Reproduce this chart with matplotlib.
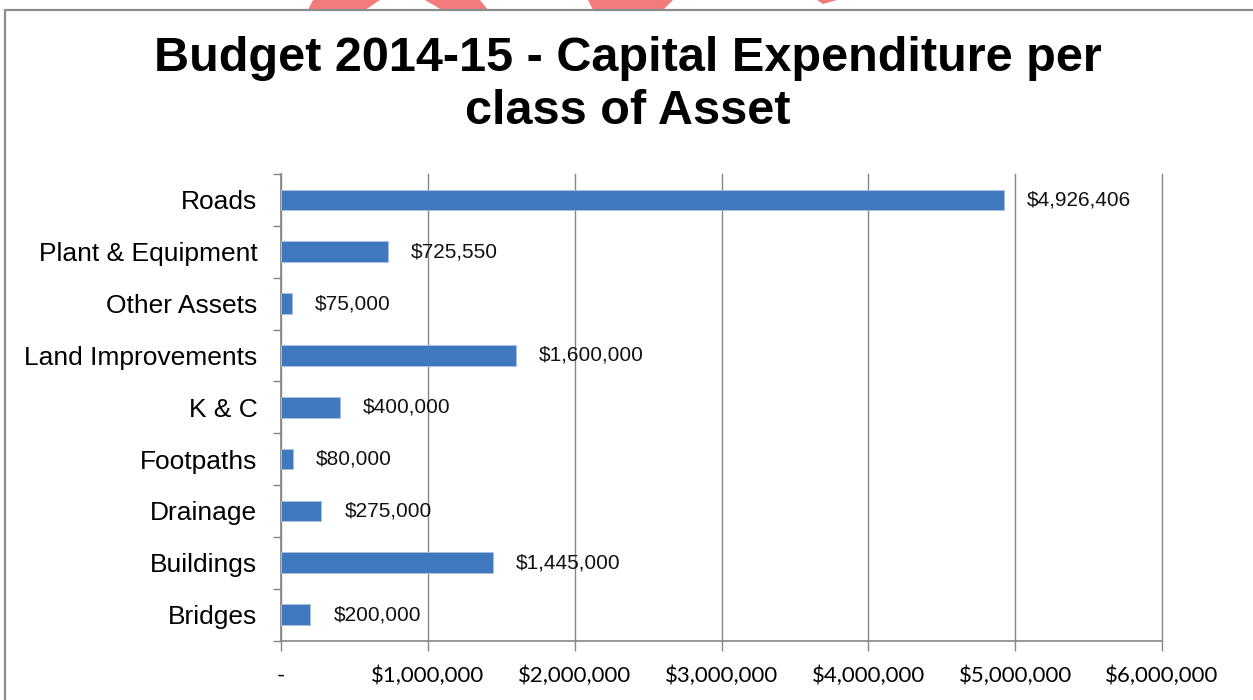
import matplotlib.pyplot as plt
from matplotlib.patches import Rectangle, Polygon
from matplotlib.ticker import FuncFormatter, MultipleLocator

# Capital expenditure per class of asset (listed bottom to top)
categories = ["Bridges", "Buildings", "Drainage", "Footpaths", "K & C",
              "Land Improvements", "Other Assets", "Plant & Equipment", "Roads"]
amounts = [200000, 1445000, 275000, 80000, 400000,
           1600000, 75000, 725550, 4926406]

x_ticks = [0, 1000000, 2000000, 3000000, 4000000, 5000000, 6000000]

W, H = 1253, 700
fig = plt.figure(figsize=(W / 100, H / 100), dpi=100)

# chart frame (runs off the right and bottom of the picture)
fig.patches.append(Rectangle((5 / W, -0.02), 1.2, 1 - 10 / H + 0.02,
                             transform=fig.transFigure, fill=False,
                             edgecolor="#8c8c8c", linewidth=1.6, zorder=3))

# bits of a red stamp poking in above the frame
red_bits = [
    [(313, 0), (380, 0), (365, 10), (308, 10)],
    [(425, 0), (480, 0), (488, 10), (442, 10)],
    [(588, 0), (673, 0), (663, 10), (593, 10)],
    [(817, 0), (837, 0), (823, 4)],
]
for pts in red_bits:
    fig.patches.append(Polygon([(px / W, 1 - py / H) for px, py in pts],
                               closed=True, transform=fig.transFigure,
                               facecolor="#f47b7b", edgecolor="none", zorder=2))

ax = fig.add_axes([281 / W, 1 - 640.5 / H, 881 / W, (640.5 - 174) / H])

pos = list(range(len(categories)))
ax.barh(pos, amounts, height=0.4, color="#4179be", edgecolor="#a9c2e0",
        linewidth=0.6, zorder=3)

for y, v in zip(pos, amounts):
    ax.annotate(f"${v:,.0f}", xy=(v, y), xytext=(16.5, 0),
                textcoords="offset points", ha="left", va="center",
                fontsize=15, family="Liberation Sans", color="#111111", zorder=4)

ax.set_xlim(0, 6000000)
ax.set_ylim(-0.5, len(categories) - 0.5)

ax.set_xticks(x_ticks)
ax.xaxis.set_major_formatter(FuncFormatter(lambda v, p: "-" if v == 0 else f"${v:,.0f}"))
ax.tick_params(axis="x", direction="out", length=7, width=1, color="#868686",
               pad=11, labelsize=16)
for lbl in ax.get_xticklabels():
    lbl.set_family("Lato")

ax.set_yticks(pos)
ax.set_yticklabels(categories)
ax.yaxis.set_minor_locator(MultipleLocator(1, offset=0.5))
ax.tick_params(axis="y", which="major", length=0, pad=17, labelsize=19)
ax.tick_params(axis="y", which="minor", direction="out", length=6, width=1,
               color="#868686")
for lbl in ax.get_yticklabels():
    lbl.set_family("Liberation Sans")

ax.grid(axis="x", color="#868686", linewidth=1, zorder=0)
for gl in ax.get_xgridlines():
    gl.set_clip_on(False)
for side in ["top", "right"]:
    ax.spines[side].set_visible(False)
for side in ["left", "bottom"]:
    ax.spines[side].set_color("#868686")
    ax.spines[side].set_linewidth(1.2)

fig.text(628 / W, 1 - 36 / H, "Budget 2014-15 - Capital Expenditure per\nclass of Asset",
         ha="center", va="top", fontsize=35, fontweight="bold",
         family="Liberation Sans", linespacing=1.22)

fig.savefig("out.png", dpi=100)
